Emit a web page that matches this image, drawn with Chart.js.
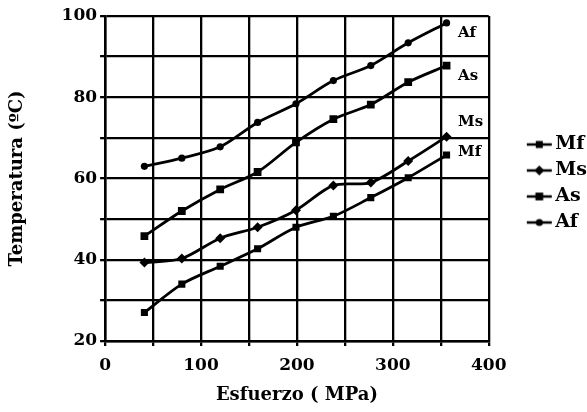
<!DOCTYPE html>
<html lang="es">
<head>
<meta charset="UTF-8">
<title>Temperaturas de transformación vs esfuerzo</title>
<script src="https://cdn.jsdelivr.net/npm/chart.js@4"></script>
<style>
  html, body { margin: 0; padding: 0; background: #fff; }
  canvas { display: block; }
</style>
</head>
<body>
<canvas id="chart" width="587" height="412"></canvas>
<script>
// Esfuerzo aplicado (MPa) y temperaturas de transformación (ºC)
const esfuerzo = [41, 80, 120, 159, 199, 238, 277, 316, 356];
const mf = [27, 34, 38.4, 42.7, 48, 50.7, 55.3, 60.2, 65.8];
const ms = [39.3, 40.3, 45.3, 48, 52.2, 58.3, 59, 64.3, 70.3];
const as = [45.8, 52, 57.3, 61.6, 68.9, 74.6, 78.2, 83.7, 87.8];
const af = [63, 65, 67.8, 73.8, 78.4, 84.1, 87.8, 93.4, 98.3];

const nombres = ['Mf', 'Ms', 'As', 'Af'];
const xEtiquetas = [0, 100, 200, 300, 400];
const yEtiquetas = [20, 40, 60, 80, 100];

// rotulos junto al final de cada curva (en unidades de los ejes)
const rotulos = [
  { text: 'Af', x: 368, y: 95.7 },
  { text: 'As', x: 368, y: 85.3 },
  { text: 'Ms', x: 368, y: 73.8 },
  { text: 'Mf', x: 368, y: 66.4 }
];

const FUENTE = "'DejaVu Serif', serif";
const ICON_BOX = 50;   // hueco reservado por la leyenda
const ICON_IMG = 70;   // ancho real de la imagen del icono

const marcadores = {
  Mf: { style: 'rect', r: 5 },
  Ms: { style: 'rectRot', r: 5 },
  As: { style: 'rect', r: 5.5 },
  Af: { style: 'circle', r: 3.6 }
};

function dibujarMarcador(g, style, x, y, r) {
  g.fillStyle = '#000';
  g.beginPath();
  if (style === 'circle') {
    g.arc(x, y, r, 0, Math.PI * 2);
  } else if (style === 'rect') {
    const s = r * Math.SQRT1_2;
    g.rect(x - s, y - s, 2 * s, 2 * s);
  } else {
    g.moveTo(x, y - r); g.lineTo(x + r, y); g.lineTo(x, y + r); g.lineTo(x - r, y);
    g.closePath();
  }
  g.fill();
}

// icono de leyenda: trazo con el marcador en medio, pegado al texto
function iconoLeyenda(nombre) {
  const c = document.createElement('canvas');
  c.width = ICON_IMG; c.height = 14;
  const g = c.getContext('2d');
  g.strokeStyle = '#000';
  g.lineWidth = 2.5;
  g.beginPath();
  g.moveTo(ICON_IMG - 29, 7);
  g.lineTo(ICON_IMG - 4, 7);
  g.stroke();
  const m = marcadores[nombre];
  dibujarMarcador(g, m.style, ICON_IMG - 16.5, 7, m.r);
  return c;
}

function serie(nombre, valores) {
  const m = marcadores[nombre];
  return {
    label: nombre,
    data: esfuerzo.map((x, i) => ({ x: x, y: valores[i] })),
    borderColor: '#000',
    backgroundColor: '#000',
    borderWidth: 2.8,
    tension: 0.3,
    pointStyle: m.style,
    pointRadius: m.r,
    pointBorderWidth: 0,
    pointBackgroundColor: '#000'
  };
}

const rotulosPlugin = {
  id: 'rotulos',
  afterDatasetsDraw(chart) {
    const { ctx, scales: { x, y } } = chart;
    ctx.save();
    ctx.fillStyle = '#000';
    ctx.font = "bold 15px " + FUENTE;
    ctx.textAlign = 'left';
    ctx.textBaseline = 'middle';
    rotulos.forEach(r => ctx.fillText(r.text, x.getPixelForValue(r.x), y.getPixelForValue(r.y)));
    ctx.restore();
  }
};

new Chart(document.getElementById('chart'), {
  type: 'line',
  data: {
    datasets: [
      serie('Mf', mf),
      serie('Ms', ms),
      serie('As', as),
      serie('Af', af)
    ]
  },
  options: {
    responsive: false,
    animation: false,
    layout: { padding: { top: 16, left: 2, right: -10, bottom: 1 } },
    plugins: {
      tooltip: { enabled: false },
      legend: {
        position: 'right',
        fullSize: false,
        title: { display: true, text: ' ', font: { size: 8, lineHeight: 1.25 }, padding: 0 },
        labels: {
          usePointStyle: true,
          pointStyleWidth: ICON_BOX,
          padding: 7,
          color: '#000',
          font: { family: FUENTE, size: 19, weight: 'bold' },
          generateLabels(chart) {
            const items = Chart.defaults.plugins.legend.labels.generateLabels(chart);
            items.forEach(it => { it.pointStyle = iconoLeyenda(nombres[it.datasetIndex]); });
            return items;
          }
        }
      }
    },
    scales: {
      x: {
        type: 'linear',
        min: 0,
        max: 400,
        border: { color: '#000', width: 2.5 },
        grid: { color: '#000', lineWidth: 2.3, tickLength: 5, tickColor: '#000' },
        ticks: {
          stepSize: 50,
          padding: 9,
          color: '#000',
          font: { family: FUENTE, size: 17, weight: 'bold' },
          callback: v => xEtiquetas.includes(v) ? String(v) : ''
        },
        title: {
          display: true,
          text: 'Esfuerzo ( MPa)',
          color: '#000',
          font: { family: FUENTE, size: 18, weight: 'bold' },
          padding: { top: 0, bottom: 5 }
        }
      },
      y: {
        min: 20,
        max: 100,
        border: { color: '#000', width: 2.5 },
        grid: { color: '#000', lineWidth: 2.3, tickLength: 5, tickColor: '#000' },
        ticks: {
          stepSize: 10,
          padding: 3,
          color: '#000',
          font: { family: FUENTE, size: 17, weight: 'bold' },
          callback: v => yEtiquetas.includes(v) ? String(v) : ''
        },
        title: {
          display: true,
          text: 'Temperatura (ºC)',
          color: '#000',
          font: { family: FUENTE, size: 18, weight: 'bold' },
          padding: { top: 5, bottom: 30 }
        }
      }
    }
  },
  plugins: [rotulosPlugin]
});
</script>
</body>
</html>
